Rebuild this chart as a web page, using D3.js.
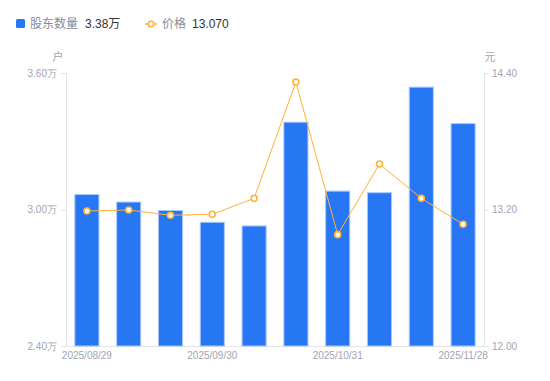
<!DOCTYPE html>
<html><head><meta charset="utf-8">
<script src="https://cdn.jsdelivr.net/npm/d3@7"></script>
<style>
body{margin:0;background:#fff;}
svg{display:block;font-family:"Liberation Sans","Noto Sans CJK SC",sans-serif;}
</style></head>
<body><svg id="c" width="550" height="381"></svg>
<script>
const dates = ["2025/08/29","2025/09/10","2025/09/19","2025/09/30","2025/10/10","2025/10/20","2025/10/31","2025/11/10","2025/11/20","2025/11/28"];
const holders = [3.068, 3.035, 2.998, 2.946, 2.930, 3.386, 3.083, 3.076, 3.540, 3.380];
const prices = [13.187, 13.196, 13.149, 13.158, 13.298, 14.320, 12.979, 13.600, 13.298, 13.070];
const leftTicks = [2.4, 3.0, 3.6];
const rightTicks = [12.0, 13.2, 14.4];
const xLabelDates = ["2025/08/29","2025/09/30","2025/10/31","2025/11/28"];

const svg = d3.select("#c");
const m = {l:66, r:484, t:73, b:346};
const x = d3.scaleBand().domain(dates).range([m.l, m.r]).paddingInner(0.4).paddingOuter(0.2);
const yL = d3.scaleLinear().domain([2.4, 3.6]).range([m.b, m.t]);
const yR = d3.scaleLinear().domain([12.0, 14.4]).range([m.b, m.t]);
const axisColor = "#e3e3e8", labelColor = "#a3a3b3";

// axes
const gL = svg.append("g").attr("transform", `translate(${m.l},0)`)
  .call(d3.axisLeft(yL).tickValues(leftTicks).tickSize(5).tickPadding(4).tickFormat(d => d3.format(".2f")(d) + "万"));
const gR = svg.append("g").attr("transform", `translate(${m.r},0)`)
  .call(d3.axisRight(yR).tickValues(rightTicks).tickSize(5).tickPadding(3).tickFormat(d3.format(".2f")));
const gB = svg.append("g").attr("transform", `translate(0,${m.b})`)
  .call(d3.axisBottom(x).tickValues(xLabelDates).tickSize(0).tickPadding(6));
[gL, gR, gB].forEach(g => {
  g.selectAll("path.domain").attr("stroke", axisColor);
  g.selectAll(".tick line").attr("stroke", axisColor);
  g.selectAll("text").attr("fill", labelColor).attr("font-size", 10);
});
gB.select("path.domain").attr("d", `M${m.l},0.5H${m.r}`);

// unit labels
svg.append("text").attr("x", 58).attr("y", 61).attr("text-anchor","middle").attr("fill", labelColor).attr("font-size", 11).text("户");
svg.append("text").attr("x", 490).attr("y", 61).attr("text-anchor","middle").attr("fill", labelColor).attr("font-size", 11).text("元");

// bars
svg.append("g").selectAll("rect").data(dates).join("rect")
  .attr("x", d => x(d) + 0.5)
  .attr("y", (d,i) => yL(holders[i]) + 0.5)
  .attr("width", x.bandwidth() - 1)
  .attr("height", (d,i) => m.b - yL(holders[i]) - 0.5)
  .attr("fill", "#2777f5")
  .attr("stroke", "#a9c8fb").attr("stroke-width", 1);

// price line
const cx = d => x(d) + x.bandwidth()/2;
const orange = "#ffb237";
svg.append("path").datum(dates)
  .attr("d", d3.line().x(d => cx(d)).y((d,i) => yR(prices[i])))
  .attr("fill","none").attr("stroke", orange).attr("stroke-width", 1);
svg.append("g").selectAll("circle").data(dates).join("circle")
  .attr("cx", d => cx(d)).attr("cy", (d,i) => yR(prices[i])).attr("r", 3)
  .attr("fill", "#fff").attr("stroke", orange).attr("stroke-width", 1.6);

// legend
const lg = svg.append("g").attr("font-size", 12);
lg.append("rect").attr("x", 16).attr("y", 19).attr("width", 9).attr("height", 9).attr("rx", 1.5).attr("fill", "#2777f5");
lg.append("text").attr("x", 30).attr("y", 28).attr("fill", "#8a8a99").text("股东数量");
lg.append("text").attr("x", 85).attr("y", 28).attr("fill", "#333").text(d3.format(".2f")(holders[holders.length-1]) + "万");
lg.append("line").attr("x1", 145).attr("x2", 157).attr("y1", 24).attr("y2", 24).attr("stroke", orange).attr("stroke-width", 1.5);
lg.append("circle").attr("cx", 151).attr("cy", 24).attr("r", 2.8).attr("fill", "#fff").attr("stroke", orange).attr("stroke-width", 1.6);
lg.append("text").attr("x", 162).attr("y", 28).attr("fill", "#8a8a99").text("价格");
lg.append("text").attr("x", 192).attr("y", 28).attr("fill", "#333").text(d3.format(".3f")(prices[prices.length-1]));
</script></body></html>
